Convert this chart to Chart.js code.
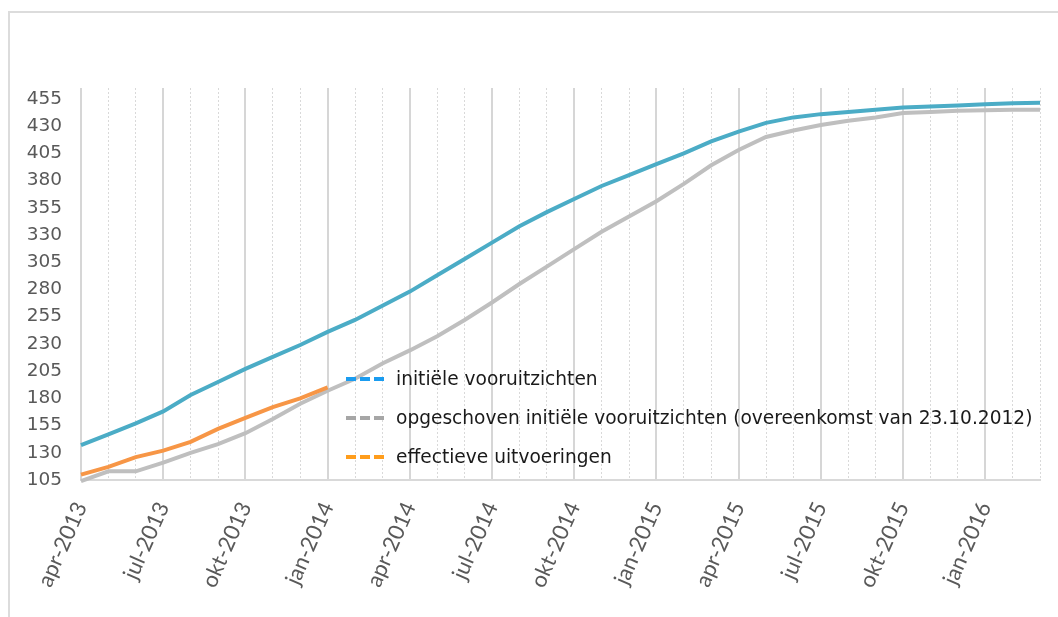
<!DOCTYPE html>
<html>
<head>
<meta charset="utf-8">
<script src="https://cdn.jsdelivr.net/npm/chart.js@4.4.1/dist/chart.umd.min.js"></script>
<style>
html,body{margin:0;padding:0;background:#fff;}
#wrap{position:relative;width:1058px;height:617px;overflow:hidden;background:#fff;}
#frame{position:absolute;left:8px;top:11px;width:1100px;height:700px;border-left:2px solid #dcdcdc;border-top:2px solid #dcdcdc;}
#c{position:absolute;left:0;top:0;}
#legend{position:absolute;left:346px;top:359px;font-family:"DejaVu Sans",Verdana,sans-serif;font-size:18.6px;color:#1a1a1a;}
.row{height:39px;display:flex;align-items:center;white-space:nowrap;}
.sw{width:41px;height:4px;margin-right:9px;flex:none;}
</style>
</head>
<body>
<div id="wrap">
  <div id="frame"></div>
  <canvas id="c" width="1058" height="617"></canvas>
  <div id="legend"></div>
</div>
<script>
// ---- data ----
const months = ['apr-2013','mei-2013','jun-2013','jul-2013','aug-2013','sep-2013','okt-2013','nov-2013','dec-2013',
  'jan-2014','feb-2014','mrt-2014','apr-2014','mei-2014','jun-2014','jul-2014','aug-2014','sep-2014','okt-2014','nov-2014','dec-2014',
  'jan-2015','feb-2015','mrt-2015','apr-2015','mei-2015','jun-2015','jul-2015','aug-2015','sep-2015','okt-2015','nov-2015','dec-2015',
  'jan-2016','feb-2016','mrt-2016'];
const initieleVooruitzichten = [137,147,157,168,183,195,207,218,229,241,252,265,278,293,308,323,338,351,363,375,385,395,
  405,416,425,433,438,441,443,445,447,448,449,450,451,451.5];
const opgeschovenVooruitzichten = [104,113,113,121,130,138,148,161,175,187,198,212,224,237,252,268,285,301,317,333,347,361,
  377,394,408,420,426,431,435,438,442,443,444,444.5,445,445];
const effectieveUitvoeringen = [110,117,126,132,140,152,162,172,180,190];
const yTicks = [105,130,155,180,205,230,255,280,305,330,355,380,405,430,455];
const seriesNames = ['initiële vooruitzichten','opgeschoven initiële vooruitzichten (overeenkomst van 23.10.2012)','effectieve uitvoeringen'];
const lineColors = ['#4bacc6','#bfbfbf','#f79646'];
const legendColors = ['#1a9cf0','#a6a6a6','#ff9d1c'];

// ---- legend (html text) ----
const lg = document.getElementById('legend');
seriesNames.forEach((n,i)=>{
  const r = document.createElement('div'); r.className='row';
  const s = document.createElement('div'); s.className='sw';
  s.style.background = `repeating-linear-gradient(to right, ${legendColors[i]} 0 10px, transparent 10px 14px)`;
  const t = document.createElement('span'); t.textContent = n;
  r.appendChild(s); r.appendChild(t); lg.appendChild(r);
});

const isMajor = i => i % 3 === 0;

new Chart(document.getElementById('c'), {
  type: 'line',
  data: {
    labels: months,
    datasets: [
      {label: seriesNames[0], data: initieleVooruitzichten, borderColor: lineColors[0], borderWidth: 4, pointRadius: 0, tension: 0, clip: false, order: 2},
      {label: seriesNames[1], data: opgeschovenVooruitzichten, borderColor: lineColors[1], borderWidth: 4, pointRadius: 0, tension: 0, clip: false, order: 3},
      {label: seriesNames[2], data: effectieveUitvoeringen, borderColor: lineColors[2], borderWidth: 4, pointRadius: 0, tension: 0, clip: false, order: 1}
    ]
  },
  options: {
    responsive: false,
    animation: false,
    events: [],
    layout: {padding: {left: 0, top: 88, right: 18, bottom: 0}},
    plugins: {legend: {display: false}, tooltip: {enabled: false}},
    scales: {
      x: {
        type: 'category',
        offset: false,
        grid: {
          color: c => isMajor(c.index) ? '#d6d6d6' : 'rgba(0,0,0,0)',
          lineWidth: 2,
          drawTicks: false
        },
        border: {display: true, color: '#d9d9d9', width: 2},
        ticks: {
          autoSkip: false,
          minRotation: 66, maxRotation: 66,
          padding: 18,
          color: '#595959',
          font: {family: 'Lato', size: 22},
          callback: function(v, i){ return isMajor(i) ? months[i] : ''; }
        },
        afterFit: s => { s.height = 137; s.paddingLeft = 0; s.paddingRight = 0; }
      },
      x2: {
        type: 'category',
        labels: months,
        offset: false,
        position: 'bottom',
        grid: {
          color: c => isMajor(c.index) ? 'rgba(0,0,0,0)' : '#d9d9d9',
          lineWidth: 1,
          drawTicks: false
        },
        border: {display: false, dash: [2,2]},
        ticks: {display: false},
        afterFit: s => { s.height = 0; s.paddingLeft = 0; s.paddingRight = 0; }
      },
      y: {
        min: 105, max: 465,
        grid: {display: false, drawTicks: false},
        border: {display: false},
        ticks: {
          padding: 19,
          color: '#595959',
          font: {family: 'DejaVu Sans', size: 18.5}
        },
        afterBuildTicks: s => { s.ticks = yTicks.map(v => ({value: v})); },
        afterFit: s => { s.width = 81; }
      }
    }
  }
});
</script>
</body>
</html>
